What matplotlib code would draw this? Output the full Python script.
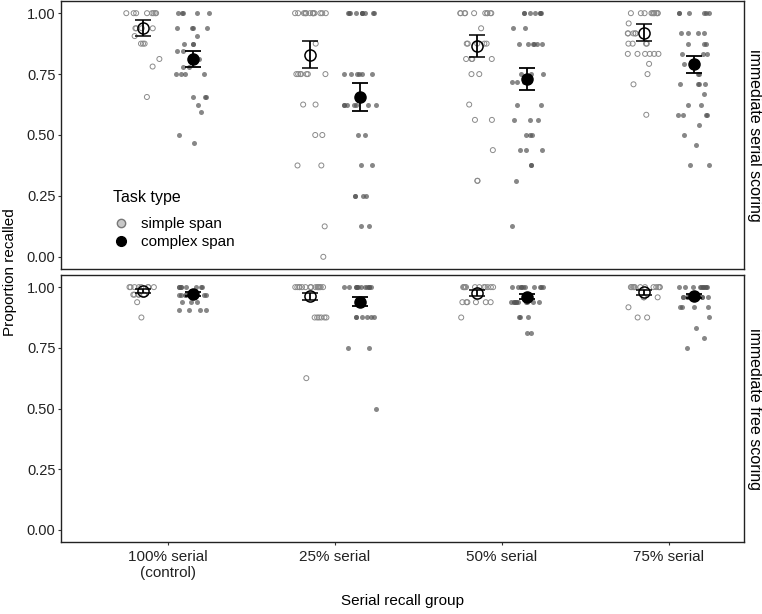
import numpy as np
import matplotlib
matplotlib.use("Agg")
import matplotlib.pyplot as plt
from matplotlib.lines import Line2D

plt.rcParams['font.family'] = ['Liberation Sans', 'DejaVu Sans']

groups = ['100% serial\n(control)', '25% serial', '50% serial', '75% serial']
panels = ['immediate serial scoring', 'immediate free scoring']

# individual proportions (one list per group)
serial_simple = [
    [1.0]*8 + [0.938]*4 + [0.906] + [0.875]*3 + [0.812, 0.781, 0.656],
    [1.0]*14 + [0.875] + [0.75]*7 + [0.625]*2 + [0.5]*2 + [0.375]*2 + [0.125, 0.0],
    [1.0]*10 + [0.938] + [0.875]*5 + [0.812]*4 + [0.75]*2 + [0.625] + [0.562]*2 + [0.438] + [0.312]*2,
    [1.0]*10 + [0.958] + [0.917]*5 + [0.875]*4 + [0.833]*6 + [0.792, 0.75, 0.708, 0.583],
]
serial_complex = [
    [1.0]*5 + [0.938]*4 + [0.906] + [0.875]*3 + [0.844]*2 + [0.812] + [0.781]*2 + [0.75]*4
    + [0.656]*3 + [0.625, 0.594, 0.5, 0.469],
    [1.0]*10 + [0.75]*6 + [0.625]*7 + [0.5]*2 + [0.375]*2 + [0.25]*4 + [0.125]*2,
    [1.0]*7 + [0.938]*2 + [0.875]*6 + [0.75]*3 + [0.719]*3 + [0.625]*2 + [0.562]*3 + [0.5]*3
    + [0.438]*3 + [0.375]*2 + [0.312, 0.125],
    [1.0]*6 + [0.917]*4 + [0.875]*3 + [0.833]*3 + [0.792]*2 + [0.75]*2 + [0.708]*4 + [0.667]
    + [0.625]*2 + [0.583]*4 + [0.542, 0.5, 0.458] + [0.375]*2,
]
free_simple = [
    [1.0]*8 + [0.969]*5 + [0.938, 0.875],
    [1.0]*16 + [0.875]*6 + [0.625],
    [1.0]*12 + [0.938]*6 + [0.875],
    [1.0]*12 + [0.958]*3 + [0.917] + [0.875]*2,
]
free_complex = [
    [1.0]*8 + [0.969]*6 + [0.938]*3 + [0.906]*4,
    [1.0]*12 + [0.875]*6 + [0.75]*2 + [0.5],
    [1.0]*10 + [0.938]*10 + [0.875]*3 + [0.812]*2,
    [1.0]*10 + [0.958]*8 + [0.917]*4 + [0.875, 0.833, 0.792, 0.75],
]

# group means and standard errors
serial_simple_mean = [0.94, 0.83, 0.866, 0.92]
serial_simple_se = [0.033, 0.057, 0.046, 0.036]
serial_complex_mean = [0.813, 0.656, 0.73, 0.79]
serial_complex_se = [0.033, 0.058, 0.046, 0.034]
free_simple_mean = [0.985, 0.963, 0.977, 0.978]
free_simple_se = [0.008, 0.014, 0.012, 0.012]
free_complex_mean = [0.97, 0.94, 0.96, 0.962]
free_complex_se = [0.008, 0.018, 0.010, 0.008]

W, H = 762, 614
fig = plt.figure(figsize=(W/100, H/100), dpi=100)
left, right = 61, 744
ax_top = fig.add_axes([left/W, 1 - 269/H, (right-left)/W, 268/H])
ax_bot = fig.add_axes([left/W, 1 - 542/H, (right-left)/W, 267/H])

rng = np.random.default_rng(7)
dodge = 0.15
jit = 0.1

data = [
    (ax_top, serial_simple, serial_complex, serial_simple_mean, serial_simple_se,
     serial_complex_mean, serial_complex_se),
    (ax_bot, free_simple, free_complex, free_simple_mean, free_simple_se,
     free_complex_mean, free_complex_se),
]

xpos = np.arange(1, len(groups) + 1)
for ax, simp, comp, sm, sse, cm, cse in data:
    for i, x in enumerate(xpos):
        v = np.array(simp[i])
        ax.scatter(x - dodge + rng.uniform(-jit, jit, len(v)), v, s=13,
                   facecolors='none', edgecolors='#8a8a8a', linewidths=0.7, zorder=2)
        v = np.array(comp[i])
        ax.scatter(x + dodge + rng.uniform(-jit, jit, len(v)), v, s=13,
                   color='#555555', alpha=0.7, linewidths=0, zorder=2)
    ax.errorbar(xpos - dodge, sm, yerr=sse, fmt='o', ms=8, mfc='none', mec='black',
                mew=1.1, ecolor='black', elinewidth=1.3, capsize=6, capthick=1.3, zorder=4)
    ax.errorbar(xpos + dodge, cm, yerr=cse, fmt='o', ms=8, mfc='black', mec='black',
                ecolor='black', elinewidth=1.3, capsize=6, capthick=1.3, zorder=4)

    ax.set_xlim(0.36, 4.45)
    ax.set_ylim(-0.05, 1.05)
    ax.set_yticks([0, 0.25, 0.5, 0.75, 1.0])
    ax.set_yticklabels(['0.00', '0.25', '0.50', '0.75', '1.00'])
    ax.tick_params(axis='both', length=2.5, width=0.8, color='#333333', pad=1.5,
                   labelsize=10.5, labelcolor='#222222')
    for s in ax.spines.values():
        s.set_linewidth(1.0)
        s.set_color('#222222')

ax_top.set_xticks(xpos)
ax_top.tick_params(axis='x', length=0, labelbottom=False)
ax_bot.set_xticks(xpos)
ax_bot.set_xticklabels(groups, fontsize=11)
ax_bot.tick_params(axis='x', pad=3)

for ax, lab in zip([ax_top, ax_bot], panels):
    ax.text(1.016, 0.5, lab, transform=ax.transAxes, rotation=-90,
            ha='center', va='center', fontsize=11.5)

fig.text(10/W, 1 - 272/H, 'Proportion recalled', rotation=90, ha='center',
         va='center', fontsize=11)
fig.text((left+right)/2/W, 1 - 601/H, 'Serial recall group', ha='center',
         va='center', fontsize=11)

handles = [
    Line2D([], [], marker='o', ls='none', ms=6, mfc='#c8c8c8', mec='#777777', mew=1),
    Line2D([], [], marker='o', ls='none', ms=7, mfc='black', mec='black'),
]
leg = ax_top.legend(handles, ['simple span', 'complex span'], title='Task type',
                    loc='upper left', bbox_to_anchor=(0.065, 0.325), frameon=False,
                    fontsize=11, title_fontsize=11.5, handlelength=1.0,
                    handletextpad=0.8, labelspacing=0.25, alignment='left', borderpad=0)
leg._legend_box.sep = 9

fig.savefig('out.png', dpi=100, facecolor='white')
